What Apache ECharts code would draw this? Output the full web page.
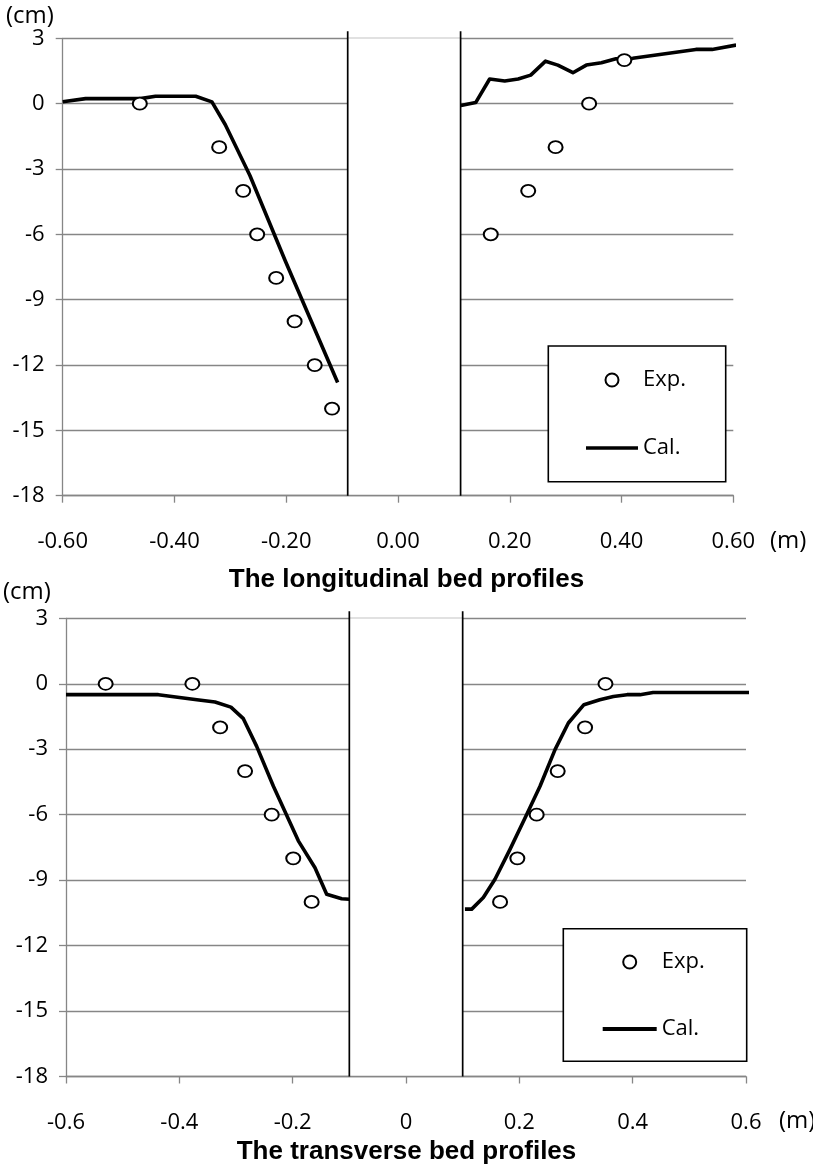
<!DOCTYPE html>
<html>
<head>
<meta charset="utf-8">
<script src="https://cdn.jsdelivr.net/npm/echarts@6/dist/echarts.min.js"></script>
<style>
  html, body { margin: 0; padding: 0; background: #fff; }
  #chart { width: 813px; height: 1168px; }
</style>
</head>
<body>
<div id="chart"></div>
<script>
// longitudinal profile (top)
const topExp = [[-0.462, 0], [-0.320, -2], [-0.277, -4], [-0.252, -6], [-0.218, -8], [-0.185, -10],
  [-0.149, -12], [-0.118, -14], [0.166, -6], [0.233, -4], [0.282, -2], [0.342, 0], [0.405, 2]]
const topCalLeft = [[-0.6, 0.09], [-0.559, 0.23], [-0.461, 0.23], [-0.434, 0.34], [-0.362, 0.34],
  [-0.333, 0.08], [-0.309, -0.97], [-0.265, -3.3], [-0.202, -7.2], [-0.108, -12.8]]
const topCalRight = [[0.1125, -0.09], [0.139, 0.05], [0.164, 1.13], [0.191, 1.04], [0.215, 1.13],
  [0.2375, 1.31], [0.264, 1.95], [0.286, 1.77], [0.313, 1.42], [0.337, 1.77], [0.364, 1.88],
  [0.39, 2.06], [0.42, 2.08], [0.533, 2.49], [0.562, 2.49], [0.605, 2.69]]
const topWalls = [-0.09, 0.112]

// transverse profile (bottom)
const botExp = [[-0.530, 0], [-0.377, 0], [-0.328, -2], [-0.284, -4], [-0.237, -6], [-0.199, -8],
  [-0.1665, -10], [0.166, -10], [0.1965, -8], [0.2306, -6], [0.2677, -4], [0.316, -2], [0.352, 0]]
const botCalLeft = [[-0.6, -0.5], [-0.437, -0.5], [-0.369, -0.73], [-0.337, -0.84], [-0.309, -1.07],
  [-0.287, -1.6], [-0.2635, -2.87], [-0.234, -4.7], [-0.19, -7.2], [-0.1606, -8.43], [-0.14, -9.65],
  [-0.1135, -9.85], [-0.1, -9.88]]
const botCalRight = [[0.104, -10.33], [0.116, -10.33], [0.1365, -9.8], [0.157, -8.96], [0.1835, -7.59],
  [0.213, -5.99], [0.2365, -4.7], [0.263, -3.02], [0.2865, -1.8], [0.314, -0.96], [0.342, -0.73],
  [0.366, -0.58], [0.39, -0.5], [0.413, -0.5], [0.436, -0.4], [0.607, -0.4]]
const botWalls = [-0.1, 0.1]

const yTicks = { min: -18, max: 3, interval: 3 }
const xTicks = { min: -0.6, max: 0.6, interval: 0.2 }

const gray = '#868686'
const labelFont = 'Open Sans'

function xAxisOf(gridIndex, fmt) {
  return {
    type: 'value',
    gridIndex,
    min: xTicks.min,
    max: xTicks.max,
    interval: xTicks.interval,
    z: 5,
    axisLine: { onZero: false, lineStyle: { color: gray, width: 1.3 } },
    axisTick: { show: true, length: 7, lineStyle: { color: gray, width: 1.3 } },
    axisLabel: { margin: 35, color: '#000', fontSize: 22, fontFamily: labelFont, formatter: fmt },
    splitLine: { show: false }
  }
}

function yAxisOf(gridIndex) {
  return {
    type: 'value',
    gridIndex,
    min: yTicks.min,
    max: yTicks.max,
    interval: yTicks.interval,
    axisLine: { show: true, onZero: false, lineStyle: { color: gray, width: 1.3 } },
    axisTick: { show: true, length: 7, lineStyle: { color: gray, width: 1.3 } },
    axisLabel: { margin: 18, color: '#000', fontSize: 22, fontFamily: labelFont },
    splitLine: { show: true, lineStyle: { color: gray, width: 1.3 } }
  }
}

function expSeries(idx, data) {
  return {
    name: 'Exp.',
    type: 'scatter',
    xAxisIndex: idx,
    yAxisIndex: idx,
    data,
    symbol: 'circle',
    symbolSize: [14, 12],
    itemStyle: { color: '#fff', borderColor: '#000', borderWidth: 1.9, opacity: 1 },
    z: 4
  }
}

function calSeries(idx, data, walls) {
  const s = {
    name: 'Cal.',
    type: 'line',
    xAxisIndex: idx,
    yAxisIndex: idx,
    data,
    symbol: 'none',
    showSymbol: false,
    clip: false,
    lineStyle: { color: '#000', width: 3.6, join: 'round' },
    itemStyle: { color: '#000' },
    z: 3
  }
  if (walls) {
    // blank strip between the two walls (no gridlines there)
    s.markArea = {
      silent: true,
      itemStyle: { color: '#fff' },
      data: [[{ coord: [walls[0], yTicks.min] }, { coord: [walls[1], yTicks.max] }]]
    }
  }
  return s
}

function legendOf(left, top, itemWidth, gap) {
  return {
    data: [
      { name: 'Exp.' },
      { name: 'Cal.', icon: 'path://M0,0L100,0L100,7L0,7Z', itemStyle: { color: '#000', borderWidth: 0 } }
    ],
    orient: 'vertical',
    left,
    top,
    padding: 0,
    itemWidth,
    itemHeight: 13,
    itemGap: gap,
    selectedMode: false,
    textStyle: { fontSize: 22, fontFamily: labelFont, color: '#000' }
  }
}

const chart = echarts.init(document.getElementById('chart'))

chart.setOption({
  animation: false,
  backgroundColor: '#fff',
  grid: [
    { left: 62.7, top: 38.3, width: 670.6, height: 457.4 },
    { left: 66, top: 618.3, width: 680, height: 458.2 }
  ],
  xAxis: [
    xAxisOf(0, v => v.toFixed(2)),
    xAxisOf(1, v => (Math.abs(v) < 1e-9 ? '0' : v.toFixed(1)))
  ],
  yAxis: [yAxisOf(0), yAxisOf(1)],
  legend: [
    legendOf(586, 369, 52, 46),
    legendOf(602.7, 951, 54, 45)
  ],
  title: [
    { text: '(cm)', left: 6, top: 4, padding: 0, textStyle: { fontSize: 24, fontWeight: 'normal', fontFamily: labelFont, color: '#000' } },
    { text: '(m)', left: 770, top: 529, padding: 0, textStyle: { fontSize: 24, fontWeight: 'normal', fontFamily: labelFont, color: '#000' } },
    { text: 'The longitudinal bed profiles', left: 'center', top: 567, padding: 0, textStyle: { fontSize: 26, fontWeight: 'bold', fontFamily: 'Liberation Sans', color: '#000' } },
    { text: '(cm)', left: 3, top: 580, padding: 0, textStyle: { fontSize: 24, fontWeight: 'normal', fontFamily: labelFont, color: '#000' } },
    { text: '(m)', left: 779, top: 1109, padding: 0, textStyle: { fontSize: 24, fontWeight: 'normal', fontFamily: labelFont, color: '#000' } },
    { text: 'The transverse bed profiles', left: 'center', top: 1139, padding: 0, textStyle: { fontSize: 26, fontWeight: 'bold', fontFamily: 'Liberation Sans', color: '#000' } }
  ],
  series: [
    calSeries(0, topCalLeft, topWalls),
    calSeries(0, topCalRight),
    expSeries(0, topExp),
    calSeries(1, botCalLeft, botWalls),
    calSeries(1, botCalRight),
    expSeries(1, botExp)
  ]
})

// wall lines: run from the axis to a little above the plot top
const wallLines = []
;[[0, topWalls], [1, botWalls]].forEach(([i, walls]) => {
  walls.forEach(w => {
    const p0 = chart.convertToPixel({ gridIndex: i }, [w, yTicks.min])
    const p1 = chart.convertToPixel({ gridIndex: i }, [w, yTicks.max])
    wallLines.push({
      type: 'line',
      z: 6,
      silent: true,
      shape: { x1: p0[0], y1: p0[1], x2: p1[0], y2: p1[1] - 7 },
      style: { stroke: '#000', lineWidth: 1.7 }
    })
  })
})

// legend frames
const frames = [
  { x: 548.3, y: 346, width: 177.4, height: 135.7 },
  { x: 563.3, y: 928.7, width: 183.4, height: 132.6 }
].map(r => ({
  type: 'rect',
  z: 3,
  silent: true,
  shape: r,
  style: { fill: '#fff', stroke: '#000', lineWidth: 1.6 }
}))

chart.setOption({ graphic: wallLines.concat(frames) })
</script>
</body>
</html>
